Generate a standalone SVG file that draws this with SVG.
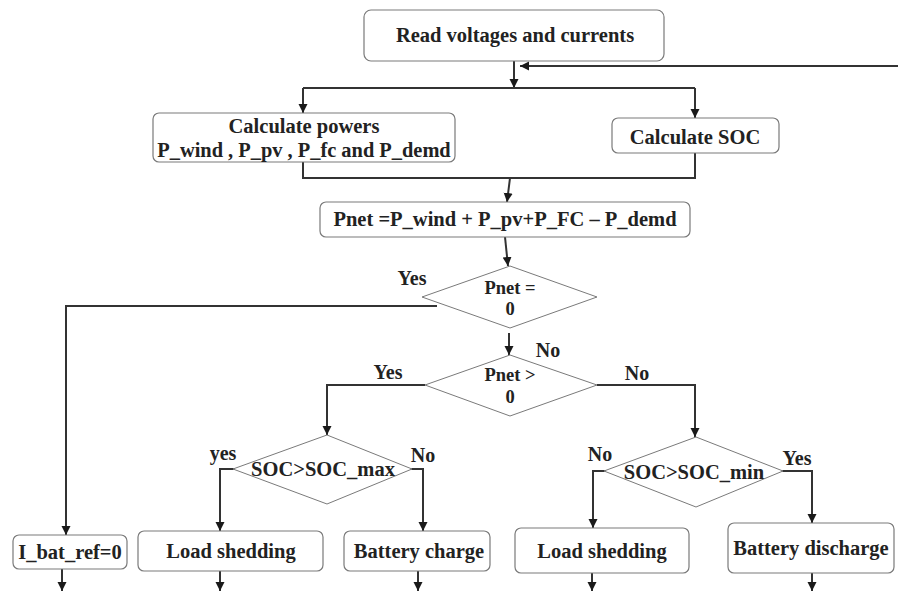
<svg xmlns="http://www.w3.org/2000/svg" width="898" height="591" viewBox="0 0 898 591">
<defs>
<marker id="ah" markerUnits="userSpaceOnUse" markerWidth="9" markerHeight="10" refX="9" refY="4.5" orient="auto" viewBox="0 0 9 9">
<path d="M0,0 L9,4.5 L0,9 z" fill="#1a1a1a"/>
</marker>
<style>
.box{fill:#fff;stroke:#7a7a7a;stroke-width:1.2}
.dia{fill:#fff;stroke:#7a7a7a;stroke-width:1}
.c{fill:none;stroke:#333;stroke-width:2}
.a{marker-end:url(#ah)}
.txt text{font-weight:bold;fill:#222;text-anchor:middle;dominant-baseline:central}
.t{font-size:20.5px}
.p{font-size:20.4px}
.s{font-size:18.5px}
.l{font-size:20px}
</style>
</defs>
<rect width="898" height="591" fill="#fff"/>
<g id="connectors">
<path class="c a" d="M514,61 V88"/>
<path class="c a" d="M898,66 H520"/>
<path class="c" d="M303,88 H695"/>
<path class="c a" d="M303,88 V113"/>
<path class="c a" d="M695,88 V118"/>
<path class="c" d="M303,162 V178 H695 V153"/>
<path class="c a" d="M510,178 L507,202"/>
<path class="c a" d="M505,237 L508,266"/>
<path class="c a" d="M437,306 H66 V535"/>
<path class="c a" d="M509,333 V355"/>
<path class="c a" d="M425,385 H327 V435"/>
<path class="c a" d="M597,385 H695 V437"/>
<path class="c a" d="M235,469 H220 V531"/>
<path class="c a" d="M410,469 H423 V531"/>
<path class="c a" d="M606,471 H593 V528"/>
<path class="c a" d="M781,471 H812 V523"/>
<path class="c a" d="M62,569 V591"/>
<path class="c a" d="M220,571 V591"/>
<path class="c a" d="M418,571 V591"/>
<path class="c a" d="M592,573 V591"/>
<path class="c a" d="M812,573 V591"/>
</g>
<g class="txt" font-family="'Liberation Serif', 'DejaVu Serif', serif">
<g id="read">
<rect class="box" x="364" y="10" width="300" height="51" rx="7"/>
<text class="t" x="515" y="35">Read voltages and currents</text>
</g>
<g id="powers">
<rect class="box" x="153" y="113" width="302" height="49" rx="6"/>
<text class="t" x="304" y="126">Calculate powers</text>
<text class="p" x="304" y="150">P_wind , P_pv , P_fc and P_demd</text>
</g>
<g id="soc">
<rect class="box" x="612" y="118" width="167" height="35" rx="6"/>
<text class="t" x="695" y="137">Calculate SOC</text>
</g>
<g id="pnet">
<rect class="box" x="320" y="202" width="370" height="35" rx="6"/>
<text class="t" x="505" y="219">Pnet =P_wind + P_pv+P_FC – P_demd</text>
</g>
<g id="d1">
<polygon class="dia" points="510,266 597,297 510,328 422,297"/>
<text class="s" x="510" y="288">Pnet =</text>
<text class="s" x="510" y="309">0</text>
<text class="l" x="412" y="278">Yes</text>
<text class="l" x="548" y="350">No</text>
</g>
<g id="d2">
<polygon class="dia" points="510,355 597,385 510,416 425,385"/>
<text class="s" x="510" y="375">Pnet &gt;</text>
<text class="s" x="510" y="397">0</text>
<text class="l" x="388" y="372">Yes</text>
<text class="l" x="637" y="373">No</text>
</g>
<g id="d3">
<polygon class="dia" points="327,435 412,469 327,504 233,469"/>
<text class="t" x="323" y="469">SOC&gt;SOC_max</text>
<text class="l" x="223" y="453">yes</text>
<text class="l" x="423" y="455">No</text>
</g>
<g id="d4">
<polygon class="dia" points="696,437 783,471 696,507 604,471"/>
<text class="t" x="694" y="472">SOC&gt;SOC_min</text>
<text class="l" x="600" y="454">No</text>
<text class="l" x="797" y="458">Yes</text>
</g>
<g id="ibat">
<rect class="box" x="13" y="535" width="114" height="34" rx="6"/>
<text class="t" x="70" y="552">I_bat_ref=0</text>
</g>
<g id="load1">
<rect class="box" x="138" y="531" width="185" height="40" rx="6"/>
<text class="t" x="231" y="551">Load shedding</text>
</g>
<g id="charge">
<rect class="box" x="344" y="531" width="146" height="40" rx="6"/>
<text class="t" x="419" y="551">Battery charge</text>
</g>
<g id="load2">
<rect class="box" x="515" y="528" width="174" height="45" rx="6"/>
<text class="t" x="602" y="551">Load shedding</text>
</g>
<g id="discharge">
<rect class="box" x="728" y="523" width="166" height="50" rx="6"/>
<text class="t" x="811" y="548">Battery discharge</text>
</g>
</g>
</svg>
